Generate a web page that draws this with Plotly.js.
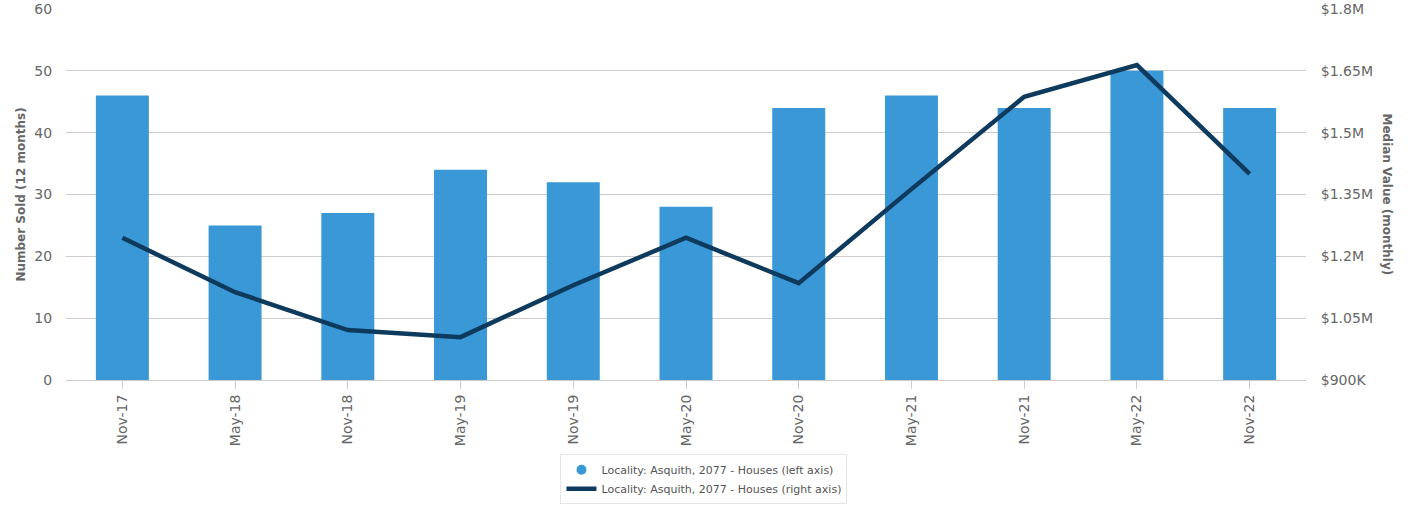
<!DOCTYPE html>
<html>
<head>
<meta charset="utf-8">
<script src="https://cdn.plot.ly/plotly-3.0.1.min.js"></script>
<style>html,body{margin:0;padding:0;background:#fff;}#chart{width:1410px;height:530px;}</style>
</head>
<body>
<div id="chart"></div>
<script>
const categories = ["Nov-17","May-18","Nov-18","May-19","Nov-19","May-20","Nov-20","May-21","Nov-21","May-22","Nov-22"];
const numberSold = [46, 25, 27, 34, 32, 28, 44, 46, 44, 50, 44];
const medianValue = [1245000, 1113000, 1021000, 1004000, 1130000, 1245000, 1135000, 1363000, 1587000, 1664000, 1400000];
const rightTickVals = [900000, 1050000, 1200000, 1350000, 1500000, 1650000, 1800000];
const rightTickText = ["$900K", "$1.05M", "$1.2M", "$1.35M", "$1.5M", "$1.65M", "$1.8M"];
const leftName = "Locality: Asquith, 2077 - Houses (left axis)";
const rightName = "Locality: Asquith, 2077 - Houses (right axis)";

const barColor = "#3a98d6";
const lineColor = "#0e3a5d";

const traces = [
  {type: "bar", x: categories, y: numberSold, marker: {color: barColor}, showlegend: false, name: leftName, hoverinfo: "x+y"},
  {type: "scatter", mode: "markers", x: [null], y: [null], name: leftName, marker: {color: barColor, size: 10, symbol: "circle"}, showlegend: true},
  {type: "scatter", mode: "lines", x: categories, y: medianValue, yaxis: "y2", name: rightName, line: {color: lineColor, width: 4.5}}
];

const tickFont = {family: "DejaVu Sans, sans-serif", size: 14, color: "#666"};
const layout = {
  width: 1410, height: 530,
  margin: {l: 66, r: 104, t: 9, b: 150},
  paper_bgcolor: "#fff", plot_bgcolor: "#fff",
  bargap: 0.53,
  font: {family: "DejaVu Sans, sans-serif", color: "#666"},
  xaxis: {
    type: "category", tickangle: -90, tickfont: tickFont,
    ticks: "outside", ticklen: 8, tickcolor: "#ccc",
    showline: true, linecolor: "#ccc", linewidth: 1, showgrid: false, zeroline: false,
    range: [-0.5, 10.5]
  },
  yaxis: {
    range: [0, 60], dtick: 10, tickfont: tickFont,
    gridcolor: "#ccc", gridwidth: 1, zeroline: false,
    ticks: "outside", ticklen: 10, tickcolor: "rgba(0,0,0,0)",
    title: {text: "Number Sold (12 months)", font: {size: 12, color: "#666", family: "DejaVu Sans, sans-serif", weight: "bold"}, standoff: 6}
  },
  yaxis2: {
    overlaying: "y", side: "right", range: [900000, 1800000],
    tickvals: rightTickVals, ticktext: rightTickText, tickfont: tickFont,
    showgrid: false, zeroline: false,
    ticks: "outside", ticklen: 11, tickcolor: "rgba(0,0,0,0)"
  },
  annotations: [{
    text: "<b>Median Value (monthly)</b>", xref: "paper", yref: "paper",
    x: 1, xanchor: "center", yanchor: "middle", xshift: 81, y: 0.5, textangle: 90, showarrow: false,
    font: {size: 12, color: "#666", family: "DejaVu Sans, sans-serif"}
  }],
  legend: {
    orientation: "v", x: 0.5145, xanchor: "center", y: -0.2, yanchor: "top",
    bordercolor: "#e6e6e6", borderwidth: 1, bgcolor: "#fff",
    font: {size: 11, color: "#555", family: "DejaVu Sans, sans-serif"},
    tracegroupgap: 0, itemwidth: 30
  },
  showlegend: true
};

Plotly.newPlot("chart", traces, layout, {displayModeBar: false, staticPlot: true});
</script>
</body>
</html>
